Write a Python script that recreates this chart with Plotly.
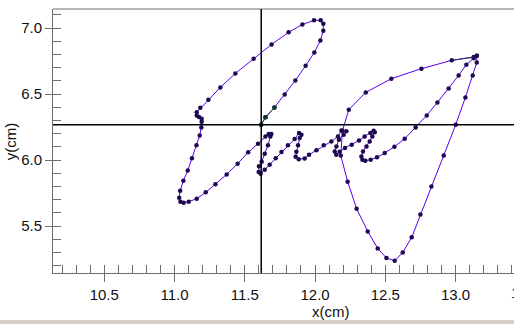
import plotly.graph_objects as go

# Pen trajectory (cm)
x_cm = [11.617, 11.647, 11.711, 11.784, 11.860, 11.933, 11.995, 12.038, 12.059, 12.059,
        12.040, 11.993, 11.910, 11.812, 11.691, 11.563, 11.433, 11.326, 11.241, 11.183,
        11.158, 11.158, 11.174, 11.193, 11.193, 11.191, 11.179, 11.156, 11.124, 11.094,
        11.063, 11.040, 11.033, 11.042, 11.065, 11.101, 11.158, 11.222, 11.291, 11.371,
        11.449, 11.524, 11.594,
        11.647, 11.670, 11.689, 11.682, 11.665, 11.642, 11.620, 11.601, 11.599, 11.613,
        11.642, 11.677, 11.720, 11.761, 11.807, 11.855, 11.886, 11.903, 11.891, 11.879,
        11.867, 11.862, 11.884, 11.926, 11.957, 12.010, 12.062, 12.116, 12.163, 12.188,
        12.223, 12.204, 12.170, 12.152, 12.140, 12.151, 12.175, 12.213, 12.261, 12.313,
        12.353, 12.394, 12.417, 12.425, 12.408, 12.389, 12.366, 12.341, 12.330, 12.337,
        12.358, 12.396, 12.441, 12.496, 12.565, 12.638, 12.716, 12.795, 12.871, 12.951,
        13.022, 13.077, 13.129, 13.151,
        13.151, 13.122, 13.070, 13.001, 12.916, 12.828, 12.750, 12.688, 12.624, 12.567,
        12.508, 12.446, 12.375, 12.296, 12.232, 12.183, 12.195, 12.240, 12.361, 12.543,
        12.757, 12.973, 13.129, 13.151]
y_cm = [6.267, 6.323, 6.398, 6.497, 6.603, 6.714, 6.815, 6.906, 6.980, 7.033,
        7.058, 7.058, 7.027, 6.967, 6.876, 6.767, 6.656, 6.550, 6.457, 6.396,
        6.361, 6.338, 6.326, 6.313, 6.290, 6.247, 6.186, 6.111, 6.014, 5.921,
        5.843, 5.767, 5.714, 5.684, 5.677, 5.684, 5.707, 5.755, 5.817, 5.891,
        5.972, 6.058, 6.124,
        6.179, 6.197, 6.197, 6.179, 6.111, 6.048, 5.987, 5.952, 5.909, 5.896,
        5.927, 5.964, 6.014, 6.061, 6.111, 6.159, 6.205, 6.192, 6.167, 6.111,
        6.063, 6.025, 6.006, 6.012, 6.040, 6.073, 6.111, 6.141, 6.179, 6.224,
        6.217, 6.192, 6.154, 6.103, 6.065, 6.040, 6.063, 6.091, 6.116, 6.148,
        6.179, 6.205, 6.222, 6.211, 6.179, 6.141, 6.103, 6.065, 6.027, 6.002,
        5.995, 6.002, 6.020, 6.053, 6.101, 6.161, 6.247, 6.338, 6.436, 6.542,
        6.641, 6.722, 6.771, 6.790,
        6.739, 6.641, 6.474, 6.267, 6.035, 5.800, 5.588, 5.414, 5.300, 5.237,
        5.258, 5.330, 5.459, 5.631, 5.836, 6.035, 6.222, 6.381, 6.512, 6.616,
        6.692, 6.755, 6.780, 6.790]

cursor_x = 11.617
cursor_y = 6.267

x_range = [10.135, 13.416]
y_range = [5.144, 7.144]
x_ticks = [10.5, 11.0, 11.5, 12.0, 12.5, 13.0]
x_tick_labels = ["10.5", "11.0", "11.5", "12.0", "12.5", "13.0"]
x_cut_tick = 13.5
x_cut_label = "13.5"
y_ticks = [5.5, 6.0, 6.5, 7.0]
y_tick_labels = ["5.5", "6.0", "6.5", "7.0"]

AX = "#6e6e6e"
FONT = dict(family="Liberation Sans, Arial, sans-serif", size=15, color="#111111")

fig = go.Figure()
fig.add_trace(go.Scatter(
    x=x_cm, y=y_cm, mode="lines+markers",
    line=dict(color="#5c00f0", width=1),
    marker=dict(color="#1e0850", size=4.5, symbol="circle"),
    showlegend=False, hoverinfo="skip"))
# highlighted segments
fig.add_trace(go.Scatter(
    x=x_cm[0:3], y=y_cm[0:3], mode="lines+markers",
    line=dict(color="#1f4a40", width=1),
    marker=dict(color="#103828", size=4.5),
    showlegend=False, hoverinfo="skip"))
fig.add_trace(go.Scatter(
    x=x_cm[-3:-1], y=y_cm[-3:-1], mode="lines",
    line=dict(color="#203060", width=1),
    showlegend=False, hoverinfo="skip"))
# dummy trace for overlay axes (inside part of major ticks)
fig.add_trace(go.Scatter(
    x=[cursor_x], y=[cursor_y], xaxis="x2", yaxis="y2", mode="markers",
    marker=dict(opacity=0), showlegend=False, hoverinfo="skip"))

fig.update_layout(
    width=514, height=324,
    margin=dict(l=53, r=0, t=9, b=51),
    paper_bgcolor="white", plot_bgcolor="white",
    font=FONT,
    xaxis=dict(range=x_range, tickvals=x_ticks, ticktext=x_tick_labels,
               ticks="outside", ticklen=8, tickwidth=1, tickcolor=AX,
               showline=True, linecolor=AX, linewidth=1,
               showgrid=False, zeroline=False, tickfont=FONT,
               minor=dict(ticks="inside", ticklen=8, dtick=0.1, tick0=0,
                          tickcolor=AX, tickwidth=1, showgrid=False)),
    yaxis=dict(range=y_range, tickvals=y_ticks, ticktext=y_tick_labels,
               ticks="outside", ticklen=7, tickwidth=1, tickcolor=AX,
               showline=True, linecolor=AX, linewidth=1,
               showgrid=False, zeroline=False, tickfont=FONT,
               minor=dict(ticks="inside", ticklen=8, dtick=0.1, tick0=0,
                          tickcolor=AX, tickwidth=1, showgrid=False)),
    xaxis2=dict(range=x_range, overlaying="x", anchor="y2", side="bottom",
                tickvals=x_ticks, ticks="inside", ticklen=8, tickcolor=AX,
                showticklabels=False, showline=False, showgrid=False, zeroline=False),
    yaxis2=dict(range=y_range, overlaying="y", anchor="x2", side="left",
                tickvals=y_ticks, ticks="inside", ticklen=8, tickcolor=AX,
                showticklabels=False, showline=False, showgrid=False, zeroline=False),
)

# top frame line, cursor crosshair, bottom status strip
fig.add_shape(type="line", xref="paper", yref="paper", x0=0, x1=1, y0=1, y1=1,
              line=dict(color=AX, width=1))
fig.add_shape(type="line", xref="x", yref="paper", x0=cursor_x, x1=cursor_x, y0=0, y1=1,
              line=dict(color="black", width=1.5))
fig.add_shape(type="line", xref="paper", yref="y", x0=0, x1=1, y0=cursor_y, y1=cursor_y,
              line=dict(color="black", width=1.5))
fig.add_shape(type="rect", xref="paper", yref="paper", x0=-0.12, x1=1.0,
              y0=-0.2, y1=-0.178, line=dict(width=0), fillcolor="#d4d0c8")

# the 13.5 label sits just past the right edge of the visible axis (cut, as in the reference)
cut_paper_x = (x_cut_tick - x_range[0]) / (x_range[1] - x_range[0])
fig.add_annotation(text=x_cut_label, xref="paper", yref="paper", x=cut_paper_x, y=0,
                   xanchor="center", yanchor="top", yshift=-9, showarrow=False, font=FONT)
fig.add_annotation(text="x(cm)", xref="paper", yref="paper", x=0.602, y=0,
                   yanchor="middle", yshift=-38, showarrow=False, font=FONT)
fig.add_annotation(text="y(cm)", xref="paper", yref="paper", x=-0.093, y=0.5,
                   textangle=-90, xanchor="center", yanchor="middle",
                   showarrow=False, font=FONT)

fig.write_html("out.html", config={"displayModeBar": False},
               post_script="document.body.style.margin='0px';document.body.style.overflow='hidden';")
